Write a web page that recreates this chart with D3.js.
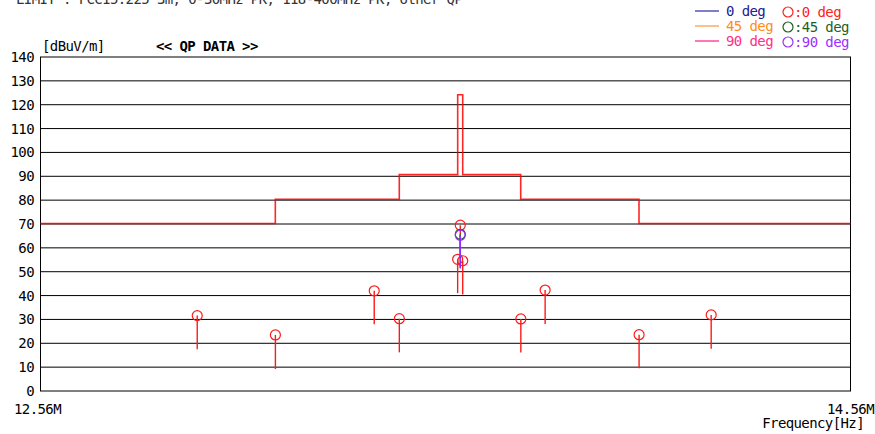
<!DOCTYPE html>
<html>
<head>
<meta charset="utf-8">
<script src="https://cdn.jsdelivr.net/npm/d3@7"></script>
<style>
body{margin:0;background:#fff;}
svg{display:block;}
text{font-family:"DejaVu Sans Mono",monospace;font-size:14px;letter-spacing:-0.6px;}
</style>
</head>
<body>
<svg id="chart" width="875" height="434"></svg>
<script>
var width = 875, height = 434;
var plot = {left:40.5, right:850.5, top:57, bottom:391};

// y 轴刻度
var yTicks = [0,10,20,30,40,50,60,70,80,90,100,110,120,130,140];
var xTickLabels = ["12.56M","14.56M"];
var xDomain = [12.56, 14.56];

// 限值线（阶梯）
var limitEdges  = [12.56, 13.1398, 13.4459, 13.5901, 13.6025, 13.7457, 14.0378, 14.56];
var limitLevels = [70.2, 80.4, 90.7, 124.2, 90.7, 80.4, 70.2];

// QP 数据 0 deg
var qp0Freq  = [12.947, 13.140, 13.384, 13.446, 13.590, 13.5965, 13.6025, 13.746, 13.806, 14.038, 14.216];
var qp0Level = [31.6, 23.5, 42.0, 30.3, 55.2, 69.5, 54.6, 30.2, 42.3, 23.6, 31.9];
var qp0Low   = [17.5, 9.2, 28.0, 16.2, 41.0, 55.5, 40.5, 16.1, 28.1, 9.5, 17.7];
// 45 deg
var qp45Freq  = [13.5965];
var qp45Level = [65.7];
var qp45Low   = [51.7];
// 90 deg
var qp90Freq  = [13.5965];
var qp90Level = [65.3];
var qp90Low   = [51.3];

var svg = d3.select("#chart");

var x = d3.scaleLinear().domain(xDomain).range([plot.left, plot.right]);
var y = d3.scaleLinear().domain([0,140]).range([plot.bottom, plot.top]);

// 顶部的一行文字（原图中上半部被裁掉）
svg.append("text").attr("x",16).attr("y",4).attr("fill","#333")
   .text("LIMIT : FCC15.225 3m, 0-30MHz PK, 118-400MHz PK, other QP");

// 网格线
svg.append("g").selectAll("line").data(yTicks.filter(function(d){return d>0 && d<140;}))
   .enter().append("line")
   .attr("x1",plot.left).attr("x2",plot.right)
   .attr("y1",function(d){return y(d);}).attr("y2",function(d){return y(d);})
   .attr("stroke","#000").attr("stroke-width",1);

// 边框
svg.append("rect").attr("x",plot.left).attr("y",plot.top)
   .attr("width",plot.right-plot.left).attr("height",plot.bottom-plot.top)
   .attr("fill","none").attr("stroke","#000").attr("stroke-width",1);

// y 轴文字
svg.append("g").selectAll("text").data(yTicks).enter().append("text")
   .attr("x",34).attr("y",function(d){return y(d);}).attr("dy","0.36em")
   .attr("text-anchor","end").attr("fill","#000")
   .text(function(d){return d;});

svg.append("text").attr("x",42).attr("y",51).attr("fill","#000").text("[dBuV/m]");
svg.append("text").attr("x",156).attr("y",51).attr("fill","#000")
   .attr("font-weight","bold").text("<< QP DATA >>");

// x 轴文字
svg.append("text").attr("x",x(xDomain[0])-3).attr("y",414).attr("text-anchor","middle")
   .attr("fill","#000").text(xTickLabels[0]);
svg.append("text").attr("x",874).attr("y",414).attr("text-anchor","end")
   .attr("fill","#000").text(xTickLabels[1]);
svg.append("text").attr("x",864).attr("y",428).attr("text-anchor","end")
   .attr("fill","#000").text("Frequency[Hz]");

// 限值线
var limitPts = limitLevels.map(function(v,i){return [limitEdges[i], v];});
limitPts.push([limitEdges[limitEdges.length-1], limitLevels[limitLevels.length-1]]);
var line = d3.line().x(function(d){return x(d[0]);}).y(function(d){return y(d[1]);})
   .curve(d3.curveStepAfter);
svg.append("path").attr("d",line(limitPts)).attr("fill","none")
   .attr("stroke","#ff0000").attr("stroke-width",1.6).attr("stroke-opacity",0.85);

// QP 标记
function drawQP(freq, level, low, color){
	var g = svg.append("g");
	g.selectAll("line").data(freq).enter().append("line")
	 .attr("x1",function(d){return x(d);}).attr("x2",function(d){return x(d);})
	 .attr("y1",function(d,i){return y(level[i]);}).attr("y2",function(d,i){return y(low[i]);})
	 .attr("stroke",color).attr("stroke-width",1.4);
	g.selectAll("circle").data(freq).enter().append("circle")
	 .attr("cx",function(d){return x(d);}).attr("cy",function(d,i){return y(level[i]);})
	 .attr("r",5).attr("fill","none").attr("stroke",color).attr("stroke-width",1.2);
}
drawQP(qp0Freq, qp0Level, qp0Low, "#ff1a1a");
drawQP(qp45Freq, qp45Level, qp45Low, "#1f6a1f");
drawQP(qp90Freq, qp90Level, qp90Low, "#8f2cff");

// 图例
var legendLines = [
	{name:"0 deg",  line:"#5555b5", text:"#202090"},
	{name:"45 deg", line:"#ffaa66", text:"#ff8c1a"},
	{name:"90 deg", line:"#ff4aa0", text:"#ff2d8a"}
];
var legendMarks = [
	{name:":0 deg",  color:"#ff2020"},
	{name:":45 deg", color:"#1f5f1f"},
	{name:":90 deg", color:"#9b30ff"}
];
var lg = svg.append("g");
legendLines.forEach(function(d,i){
	var ly = 11 + i*15;
	lg.append("line").attr("x1",695).attr("x2",719).attr("y1",ly).attr("y2",ly)
	  .attr("stroke",d.line).attr("stroke-width",1.5);
	lg.append("text").attr("x",726).attr("y",ly+5).attr("fill",d.text).text(d.name);
});
legendMarks.forEach(function(d,i){
	var ly = 12 + i*15;
	lg.append("circle").attr("cx",788).attr("cy",ly).attr("r",5)
	  .attr("fill","none").attr("stroke",d.color).attr("stroke-width",1.2);
	lg.append("text").attr("x",794).attr("y",ly+5).attr("fill",d.color).text(d.name);
});
</script>
</body>
</html>
